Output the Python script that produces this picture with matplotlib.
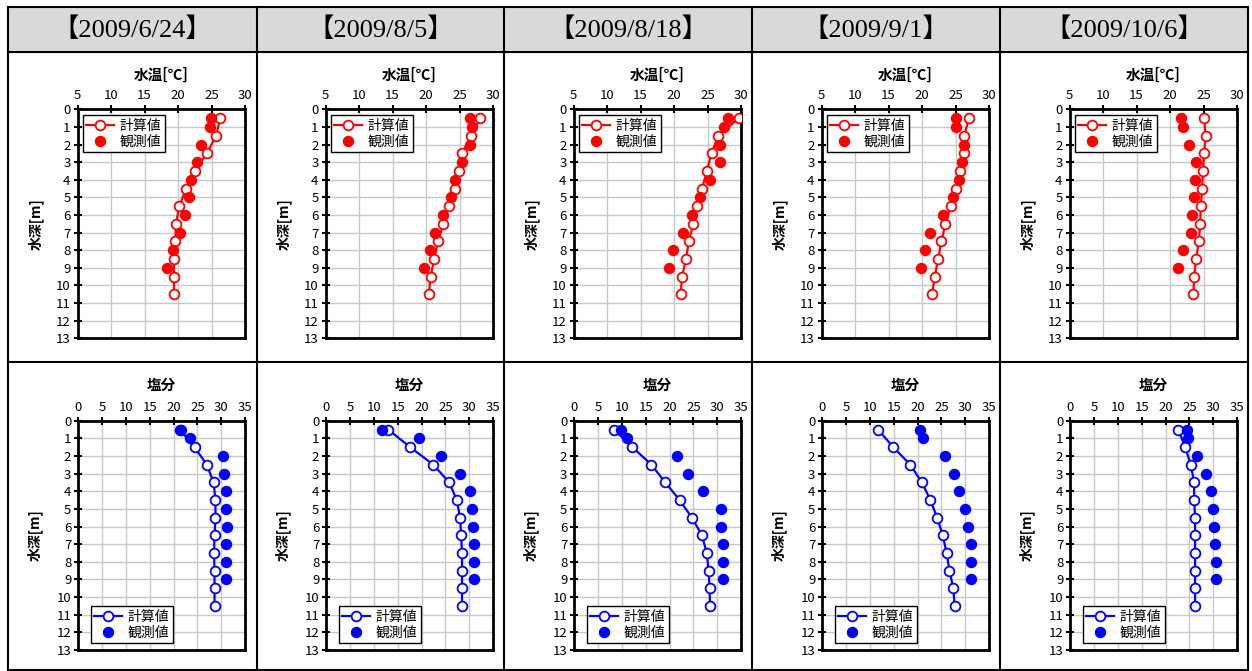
import matplotlib
matplotlib.use('Agg')
import matplotlib.pyplot as plt
from matplotlib.lines import Line2D

plt.rcParams['font.family'] = ['Noto Sans CJK JP', 'DejaVu Sans']

# ---------------- data ----------------
dates = ['【2009/6/24】', '【2009/8/5】', '【2009/8/18】', '【2009/9/1】', '【2009/10/6】']
depth_calc = [0.5, 1.5, 2.5, 3.5, 4.5, 5.5, 6.5, 7.5, 8.5, 9.5, 10.5]
depth_obs = [0.5, 1, 2, 3, 4, 5, 6, 7, 8, 9]

temp_calc_1 = [26.3, 25.7, 24.3, 22.5, 21.2, 20.2, 19.7, 19.6, 19.4, 19.4, 19.4]
temp_obs_1 = [24.9, 24.8, 23.5, 22.9, 22.0, 21.7, 21.1, 20.3, 19.3, 18.3]
temp_calc_2 = [28.1, 26.7, 25.4, 24.9, 24.3, 23.4, 22.6, 21.8, 21.2, 20.7, 20.4]
temp_obs_2 = [26.6, 26.9, 26.6, 25.4, 24.4, 23.8, 22.6, 21.4, 20.6, 19.7]
temp_calc_3 = [29.7, 26.6, 25.6, 24.9, 24.2, 23.5, 22.9, 22.2, 21.8, 21.2, 21.0]
temp_obs_3 = [28.0, 27.4, 26.9, 26.8, 25.4, 23.9, 22.7, 21.4, 19.8, 19.2]
temp_calc_4 = [27.0, 26.3, 26.2, 25.6, 25.0, 24.3, 23.5, 22.9, 22.4, 21.9, 21.5]
temp_obs_4 = [25.0, 25.0, 26.2, 26.0, 25.5, 24.7, 23.2, 21.2, 20.5, 19.9]
temp_calc_5 = [25.1, 25.3, 25.1, 24.9, 24.8, 24.6, 24.5, 24.3, 23.9, 23.6, 23.5]
temp_obs_5 = [21.7, 21.9, 22.8, 23.9, 23.8, 23.6, 23.3, 23.2, 22.0, 21.2]

sal_calc_1 = [21.3, 24.4, 27.0, 28.4, 28.8, 28.8, 28.6, 28.5, 28.6, 28.6, 28.6]
sal_obs_1 = [21.5, 23.4, 30.4, 30.5, 31.1, 31.1, 31.3, 31.1, 31.1, 31.1]
sal_calc_2 = [13.0, 17.6, 22.5, 25.8, 27.4, 28.1, 28.3, 28.5, 28.5, 28.5, 28.5]
sal_obs_2 = [11.6, 19.5, 24.0, 28.1, 30.2, 30.6, 30.8, 31.1, 31.1, 31.1]
sal_calc_3 = [8.3, 12.2, 16.2, 19.1, 22.1, 24.7, 26.8, 27.8, 28.2, 28.4, 28.5]
sal_obs_3 = [9.8, 11.0, 21.5, 23.9, 27.1, 30.7, 30.9, 31.2, 31.2, 31.2]
sal_calc_4 = [11.7, 14.9, 18.5, 20.9, 22.7, 24.1, 25.3, 26.1, 26.7, 27.5, 27.8]
sal_obs_4 = [20.6, 21.1, 25.8, 27.7, 28.8, 30.0, 30.6, 31.2, 31.2, 31.2]
sal_calc_5 = [22.7, 24.1, 25.3, 26.0, 26.0, 26.2, 26.2, 26.2, 26.2, 26.2, 26.2]
sal_obs_5 = [24.6, 24.8, 26.5, 28.5, 29.5, 29.9, 30.1, 30.3, 30.5, 30.5]

temp_calc = [temp_calc_1, temp_calc_2, temp_calc_3, temp_calc_4, temp_calc_5]
temp_obs = [temp_obs_1, temp_obs_2, temp_obs_3, temp_obs_4, temp_obs_5]
sal_calc = [sal_calc_1, sal_calc_2, sal_calc_3, sal_calc_4, sal_calc_5]
sal_obs = [sal_obs_1, sal_obs_2, sal_obs_3, sal_obs_4, sal_obs_5]

temp_ticks = [5, 10, 15, 20, 25, 30]
sal_ticks = [0, 5, 10, 15, 20, 25, 30, 35]
depth_ticks = list(range(0, 14))

# ---------------- layout ----------------
W, H = 1252, 671
fig = plt.figure(figsize=(W / 100, H / 100), dpi=100)


def rect(x0, y0, x1, y1):
    return [x0 / W, 1 - y1 / H, (x1 - x0) / W, (y1 - y0) / H]


# table background
bg = fig.add_axes([0, 0, 1, 1])
bg.set_xlim(0, W)
bg.set_ylim(H, 0)
bg.axis('off')
col_x = [8, 257, 504, 752, 1000, 1248]
top_y, head_y, mid_y, bot_y = 7, 52, 362, 670
bg.fill_between([col_x[0], col_x[-1]], top_y, head_y, color='#d9d9d9', lw=0)
lw_tab = 1.5
for x in col_x:
    bg.plot([x, x], [top_y, bot_y], color='black', lw=lw_tab)
for y in [top_y, head_y, mid_y, bot_y]:
    bg.plot([col_x[0], col_x[-1]], [y, y], color='black', lw=lw_tab)
for i, d in enumerate(dates):
    bg.text((col_x[i] + col_x[i + 1]) / 2, 30, d, ha='center', va='center',
            fontsize=19, family=['Liberation Serif', 'Noto Sans CJK JP'])

RED = '#ff0000'
BLUE = '#0000ff'


def style_axes(ax, xticks, xlim):
    ax.set_xlim(*xlim)
    ax.set_ylim(13, 0)
    ax.set_xticks(xticks)
    ax.set_yticks(depth_ticks)
    ax.xaxis.tick_top()
    ax.grid(True, color='#c8c8c8', lw=1.0)
    ax.set_axisbelow(True)
    for s in ax.spines.values():
        s.set_linewidth(2.0)
        s.set_color('black')
    ax.tick_params(axis='both', direction='inout', length=6, width=1.5,
                   labelsize=9.5, pad=2)
    ax.tick_params(axis='x', top=True, bottom=False)
    ax.tick_params(axis='y', left=True, right=False)


def draw(ax, calc, obs, color, legend_loc, anchor):
    ax.plot(calc, depth_calc, '-', color=color, lw=1.6, marker='o', ms=7,
            mfc='white', mec=color, mew=1.3, zorder=3)
    ax.plot(obs, depth_obs, 'o', color=color, ms=7.2, zorder=4, lw=0)
    handles = [
        Line2D([], [], color=color, lw=1.6, marker='o', ms=7, mfc='white',
               mec=color, mew=1.3),
        Line2D([], [], color=color, lw=0, marker='o', ms=7.2),
    ]
    leg = ax.legend(handles, ['計算値', '観測値'], loc=legend_loc,
                    bbox_to_anchor=anchor, fontsize=10, frameon=True,
                    fancybox=False, framealpha=1, edgecolor='black',
                    borderaxespad=0, handlelength=2.0, handletextpad=0.4,
                    labelspacing=0.15, borderpad=0.25)
    leg.get_frame().set_linewidth(1.0)


for i in range(5):
    x0 = 77.5 + 248 * i
    x1 = x0 + 167.5
    # temperature panel
    ax = fig.add_axes(rect(x0, 109.3, x1, 338.3))
    style_axes(ax, temp_ticks, (5, 30))
    draw(ax, temp_calc[i], temp_obs[i], RED, 'upper left', (0.031, 0.975))
    ax.text(0.5, 1.0 + 34 / 229, '水温[℃]', transform=ax.transAxes,
            ha='center', va='center', fontsize=10.5, fontweight='bold')
    ax.text(-42 / 167.5, 0.5, '水深[m]', transform=ax.transAxes, rotation=90,
            ha='center', va='center', fontsize=10, fontweight='bold')
    # salinity panel
    bx0 = 78.3 + 248 * i
    ax2 = fig.add_axes(rect(bx0, 420.7, bx0 + 166.7, 650))
    style_axes(ax2, sal_ticks, (0, 35))
    draw(ax2, sal_calc[i], sal_obs[i], BLUE, 'lower left', (0.074, 0.03))
    ax2.text(0.5, 1.0 + 36 / 229.3, '塩分', transform=ax2.transAxes,
             ha='center', va='center', fontsize=10.5, fontweight='bold')
    ax2.text(-43 / 166.7, 0.5, '水深[m]', transform=ax2.transAxes, rotation=90,
             ha='center', va='center', fontsize=10, fontweight='bold')

fig.savefig('out.png', dpi=100)
